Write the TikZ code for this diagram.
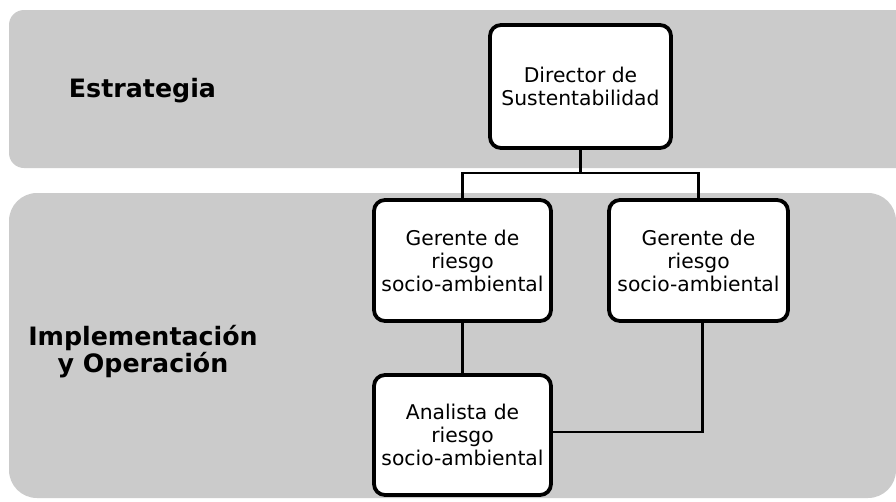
\documentclass[tikz,border=0pt]{standalone}
\usepackage{fontspec}
\setmainfont{DejaVu Sans}
\usetikzlibrary{shadows}
\definecolor{band}{RGB}{203,203,203}
\tikzset{
  orgbox/.style={draw=black, line width=3.8pt, fill=white, rounded corners=11pt,
    align=center, inner sep=0pt, font=\fontsize{20.3}{23}\selectfont,
    drop shadow={opacity=0.25, shadow xshift=1.5pt, shadow yshift=-1.5pt}},
  lvl/.style={align=center, font=\bfseries\fontsize{25.3}{27}\selectfont},
  link/.style={draw=black, line width=2.5pt}
}
\begin{document}
\begin{tikzpicture}[x=1pt,y=-1pt]
\clip (0,0) rectangle (896,501);
\fill[white] (0,0) rectangle (896,501);
% bands
\fill[band, rounded corners=15pt] (9,10) rectangle (930,168);
\fill[band, rounded corners=28pt] (9,193) rectangle (896,498);
% level labels
\node[lvl] (lstr) at (142.5,91) {Estrategia};
\node[lvl] (limp) at (143,352) {Implementación\\y Operación};
% boxes
\node[orgbox, minimum width=181pt, minimum height=123pt] (dir) at (580.5,86.5) {Director de\\Sustentabilidad};
\node[orgbox, minimum width=177pt, minimum height=121pt] (g1) at (462.5,260.5) {Gerente de\\riesgo\\socio-ambiental};
\node[orgbox, minimum width=179pt, minimum height=121pt] (g2) at (698.5,260.5) {Gerente de\\riesgo\\socio-ambiental};
\node[orgbox, minimum width=177pt, minimum height=120pt] (an) at (462.5,435) {Analista de\\riesgo\\socio-ambiental};
% connectors
\coordinate (bar) at (580.5,173);
\coordinate (g2out) at ([xshift=4pt]g2.south);
\coordinate (anin) at ([yshift=3pt]an.east);
\draw[link] (dir.south) -- (bar);
\draw[link] (bar) -| (g1.north);
\draw[link] (bar) -| (g2.north);
\draw[link] (g1.south) -- (an.north);
\draw[link] (g2out) |- (anin);
\end{tikzpicture}
\end{document}
